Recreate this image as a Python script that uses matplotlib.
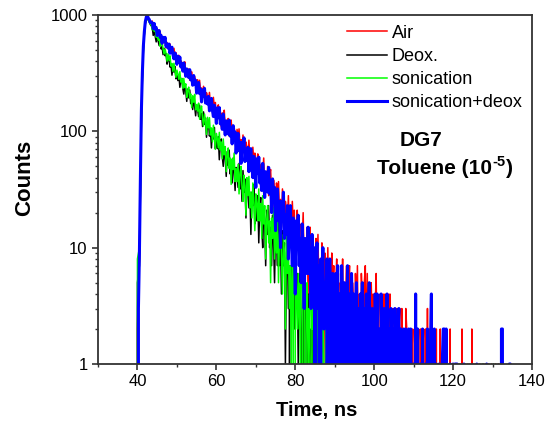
import numpy as np
import matplotlib
matplotlib.use("Agg")
import matplotlib.pyplot as plt
from matplotlib.ticker import FixedLocator, NullFormatter, FixedFormatter, LogLocator
from matplotlib.transforms import offset_copy

plt.rcParams['font.family'] = ['Liberation Sans', 'DejaVu Sans']

# time channels (ns): 39.0 ns, one channel every 0.25 ns
t_start, t_step = 39.0, 0.25

air = [
    0, 0, 0, 0, 2, 5, 8, 35, 140, 300, 520, 700, 860, 950, 975, 950, 900, 890, 850, 888,
    788, 737, 799, 746, 664, 747, 675, 727, 621, 647, 576, 648, 580, 522, 581, 547, 503, 564, 480, 505,
    451, 518, 452, 475, 392, 429, 450, 381, 404, 334, 391, 356, 396, 318, 341, 308, 344, 275, 314, 325,
    281, 254, 296, 269, 227, 278, 241, 275, 217, 236, 199, 244, 209, 179, 215, 199, 177, 216, 170, 188,
    154, 196, 160, 177, 131, 154, 169, 132, 147, 109, 144, 127, 152, 108, 124, 108, 129, 91, 115, 125,
    96, 84, 109, 96, 73, 104, 84, 105, 74, 85, 65, 93, 73, 57, 81, 71, 59, 84, 58, 69,
    49, 73, 54, 65, 39, 54, 64, 43, 52, 31, 53, 43, 59, 34, 44, 35, 50, 28, 42, 47,
    29, 22, 38, 30, 17, 36, 24, 37, 19, 26, 15, 32, 21, 12, 25, 21, 15, 28, 14, 21,
    11, 25, 15, 21, 7, 15, 21, 10, 15, 4, 16, 11, 20, 7, 12, 8, 15, 4, 12, 15,
    7, 4, 12, 8, 2, 12, 6, 13, 4, 8, 2, 11, 6, 1, 9, 6, 3, 10, 3, 7,
    1, 9, 4, 7, 0, 5, 8, 2, 5, 0, 6, 3, 8, 1, 5, 2, 7, 0, 5, 7,
    2, 0, 5, 3, 0, 6, 2, 7, 1, 4, 0, 6, 3, 0, 5, 7, 1, 6, 1, 4,
    0, 5, 2, 4, 0, 3, 6, 1, 3, 0, 4, 2, 0, 4, 1, 4, 2, 0, 4, 1,
    4, 0, 2, 3, 0, 3, 1, 3, 0, 2, 3, 0, 3, 1, 2, 0, 3, 2, 0, 2,
    0, 2, 1, 2, 0, 2, 0, 2, 1, 2, 0, 2, 0, 1, 2, 0, 2, 0, 3, 0,
    2, 0, 1, 0, 2, 0, 0, 2, 0, 1, 0, 2, 0, 0, 1, 0, 0, 1, 0, 0,
    0, 2, 0, 1, 0, 0, 1, 0, 1, 0, 0, 1, 0, 2, 0, 0, 1, 0, 0, 1,
    0, 1, 0, 2, 0, 1, 0, 0, 1, 0, 0, 1, 0, 0, 0, 1, 0, 0, 1, 0,
    1, 0, 0, 1, 0, 0, 0, 1, 0, 0, 1, 0, 0, 0, 0, 1, 0, 0, 0, 0,
    0, 0, 1, 0, 0,
]

deox = [
    0, 0, 0, 0, 5, 6, 7, 28, 120, 280, 490, 680, 840, 920, 950, 900, 870, 830, 810, 786,
    668, 737, 658, 587, 642, 599, 547, 603, 511, 529, 456, 519, 447, 466, 378, 412, 429, 357, 376, 304,
    356, 323, 361, 283, 304, 273, 306, 239, 274, 285, 233, 209, 247, 222, 181, 231, 194, 227, 173, 190,
    154, 196, 162, 136, 169, 154, 134, 168, 127, 143, 110, 147, 115, 130, 89, 111, 123, 91, 105, 72,
    102, 86, 108, 71, 85, 71, 90, 57, 78, 86, 61, 50, 71, 60, 41, 67, 51, 69, 43, 54,
    36, 59, 44, 31, 49, 43, 33, 53, 32, 41, 25, 46, 30, 39, 18, 31, 38, 22, 30, 13,
    30, 23, 35, 16, 24, 17, 28, 11, 23, 27, 15, 10, 22, 17, 7, 21, 13, 23, 10, 15,
    7, 19, 11, 5, 14, 11, 7, 17, 7, 12, 4, 14, 7, 11, 1, 7, 11, 3, 7, 0,
    7, 5, 9, 2, 5, 3, 6, 1, 4, 6, 2, 0, 4, 2, 0, 4, 1, 4, 1, 2,
    0, 2, 1, 3, 0, 1, 2, 0, 1, 0, 2, 0, 0, 1, 0, 2, 0, 0, 1, 0,
    0, 0, 0, 0, 0, 0, 0, 0, 0, 0, 0, 0, 0, 0, 0, 0, 0, 0, 0, 0,
    0, 0, 0, 0, 0, 0, 0, 0, 0, 0, 0, 0, 0, 0, 0, 0, 0, 0, 0, 0,
    0, 0, 0, 0, 0, 0, 0, 0, 0, 0, 0, 0, 0, 0, 0, 0, 0, 0, 0, 0,
    0, 0, 0, 0, 0, 0, 0, 0, 0, 0, 0, 0, 0, 0, 0, 0, 0, 0, 0, 0,
    0, 0, 0, 0, 0, 0, 0, 0, 0, 0, 0, 0, 0, 0, 0, 0, 0, 0, 0, 0,
    0, 0, 0, 0, 0, 0, 0, 0, 0, 0, 0, 0, 0, 0, 0, 0, 0, 0, 0, 0,
    0, 0, 0, 0, 0, 0, 0, 0, 0, 0, 0, 0, 0, 0, 0, 0, 0, 0, 0, 0,
    0, 0, 0, 0, 0, 0, 0, 0, 0, 0, 0, 0, 0, 0, 0, 0, 0, 0, 0, 0,
    0, 0, 0, 0, 0, 0, 0, 0, 0, 0, 0, 0, 0, 0, 0, 0, 0, 0, 0, 0,
    0, 0, 0, 0, 0,
]

sonication = [
    0, 0, 0, 0, 8, 9, 10, 30, 130, 290, 500, 690, 850, 930, 960, 905, 880, 835, 830, 745,
    787, 723, 769, 643, 664, 607, 646, 538, 582, 589, 507, 463, 511, 467, 401, 465, 408, 446, 364, 383,
    328, 385, 334, 291, 336, 311, 280, 326, 265, 284, 234, 285, 238, 256, 196, 225, 240, 192, 210, 160,
    202, 178, 208, 153, 170, 149, 175, 127, 155, 165, 128, 111, 141, 123, 94, 132, 107, 131, 93, 107,
    81, 113, 90, 70, 96, 87, 72, 98, 69, 81, 58, 86, 63, 74, 45, 62, 72, 48, 59, 35,
    58, 47, 65, 37, 48, 37, 52, 29, 44, 50, 33, 25, 42, 34, 19, 40, 28, 41, 22, 30,
    18, 36, 24, 14, 29, 24, 17, 32, 17, 24, 12, 28, 16, 23, 8, 17, 23, 11, 17, 5,
    18, 12, 22, 8, 14, 9, 17, 5, 13, 17, 8, 4, 13, 9, 2, 13, 6, 12, 3, 7,
    1, 10, 5, 0, 7, 5, 2, 6, 2, 5, 0, 5, 3, 5, 0, 3, 5, 1, 3, 0,
    4, 2, 4, 0, 2, 1, 3, 0, 2, 4, 1, 0, 3, 1, 0, 3, 1, 2, 0, 0,
    1, 0, 0, 2, 0, 0, 0, 1, 0, 0, 0, 0, 1, 0, 0, 0, 0, 0, 1, 0,
    0, 0, 0, 0, 1, 0, 0, 0, 0, 0, 0, 0, 0, 1, 0, 0, 0, 0, 0, 0,
    0, 0, 0, 0, 0, 0, 1, 0, 0, 0, 0, 0, 0, 0, 0, 0, 0, 0, 0, 0,
    0, 0, 0, 0, 0, 0, 0, 0, 0, 0, 0, 0, 1, 0, 0, 0, 0, 0, 0, 0,
    0, 0, 0, 0, 0, 0, 0, 0, 0, 0, 0, 0, 0, 0, 0, 0, 0, 0, 0, 0,
    0, 0, 0, 1, 0, 0, 0, 0, 0, 0, 0, 0, 0, 0, 0, 0, 0, 0, 0, 0,
    0, 0, 0, 0, 0, 0, 0, 0, 0, 0, 1, 0, 0, 0, 0, 0, 0, 0, 0, 0,
    0, 0, 0, 0, 0, 0, 0, 0, 0, 0, 0, 0, 0, 0, 1, 0, 0, 0, 0, 0,
    0, 0, 0, 0, 0, 1, 0, 0, 0, 0, 0, 0, 0, 0, 0, 0, 0, 0, 0, 0,
    0, 0, 0, 0, 0,
]

sonication_deox = [
    0, 0, 0, 0, 0, 3, 9, 40, 150, 320, 540, 720, 880, 960, 990, 940, 915, 860, 870, 856,
    763, 846, 755, 781, 667, 712, 735, 642, 667, 571, 643, 594, 643, 537, 564, 519, 563, 469, 516, 529,
    457, 420, 472, 435, 377, 443, 392, 435, 358, 381, 329, 387, 338, 297, 344, 320, 290, 339, 277, 298,
    249, 302, 255, 275, 213, 244, 263, 211, 231, 179, 226, 201, 234, 175, 194, 172, 200, 150, 180, 192,
    152, 134, 168, 149, 117, 159, 131, 160, 116, 133, 104, 141, 115, 93, 123, 111, 95, 125, 91, 106,
    78, 112, 85, 99, 65, 84, 96, 68, 81, 53, 80, 67, 88, 55, 68, 56, 73, 45, 64, 71,
    50, 40, 61, 51, 33, 58, 44, 60, 36, 46, 31, 53, 39, 27, 45, 39, 30, 49, 29, 38,
    20, 39, 25, 33, 14, 25, 32, 17, 25, 10, 25, 18, 30, 12, 19, 13, 23, 8, 19, 23,
    12, 7, 18, 13, 4, 17, 10, 19, 7, 12, 5, 16, 9, 3, 12, 9, 6, 15, 6, 10,
    3, 13, 6, 10, 1, 7, 11, 3, 7, 0, 8, 5, 10, 2, 5, 3, 8, 0, 6, 8,
    3, 0, 6, 4, 0, 6, 3, 7, 1, 4, 0, 7, 3, 0, 5, 3, 1, 7, 1, 4,
    0, 6, 2, 4, 0, 3, 5, 1, 3, 0, 4, 2, 5, 0, 3, 1, 4, 0, 3, 5,
    1, 0, 3, 2, 0, 4, 1, 4, 0, 2, 0, 4, 1, 0, 3, 2, 0, 4, 1, 2,
    0, 3, 1, 2, 0, 3, 1, 0, 2, 3, 0, 2, 1, 0, 2, 0, 2, 1, 0, 2,
    0, 2, 0, 0, 1, 0, 4, 0, 2, 0, 0, 1, 0, 2, 0, 0, 1, 0, 2, 0,
    0, 1, 4, 0, 0, 2, 0, 1, 0, 0, 1, 0, 0, 1, 2, 2, 0, 2, 0, 0,
    0, 1, 0, 0, 1, 0, 1, 1, 1, 0, 0, 0, 0, 0, 0, 1, 0, 0, 0, 0,
    0, 0, 0, 0, 0, 0, 0, 0, 1, 0, 0, 0, 0, 0, 0, 0, 0, 0, 1, 0,
    0, 0, 0, 0, 0, 0, 0, 0, 0, 0, 0, 0, 0, 2, 2, 0, 0, 0, 0, 0,
    0, 1, 1, 0, 0,
]

series_labels = ["Air", "Deox.", "sonication", "sonication+deox"]
x_ticks = [40, 60, 80, 100, 120, 140]
y_ticks = [1, 10, 100, 1000]
y_tick_labels = ["1", "10", "100", "1000"]

fig = plt.figure(figsize=(5.52, 4.25), dpi=100)
ax = fig.add_axes([0.1775, 0.1435, 0.7863, 0.8212])
ax.set_yscale('log', nonpositive='clip')

colors = ['#ff0000', '#000000', '#00ff00', '#0000ff']
widths = [1.1, 1.1, 1.1, 2.2]
for data, lab, c, lw in zip([air, deox, sonication, sonication_deox], series_labels, colors, widths):
    tt = t_start + t_step * np.arange(len(data))
    ax.plot(tt, data, color=c, lw=lw, label=lab)

ax.set_xlim(30, 140)
ax.set_ylim(1, 1000)

ax.xaxis.set_major_locator(FixedLocator(x_ticks))
ax.xaxis.set_minor_locator(FixedLocator([30, 50, 70, 90, 110, 130]))
ax.yaxis.set_major_locator(FixedLocator(y_ticks))
ax.yaxis.set_major_formatter(FixedFormatter(y_tick_labels))
ax.yaxis.set_minor_locator(LogLocator(base=10, subs=np.arange(2, 10)))
ax.yaxis.set_minor_formatter(NullFormatter())

ax.tick_params(axis='both', which='major', direction='out', length=4, width=1.2,
               labelsize=12, color='#333333', top=False, right=False)
ax.tick_params(axis='both', which='minor', direction='out', length=2.5, width=1.0,
               color='#333333', top=False, right=False)
for s in ax.spines.values():
    s.set_color('#333333')
    s.set_linewidth(1.3)

ax.set_xlabel("Time, ns", fontsize=14.5, fontweight='bold')
ax.set_ylabel("Counts", fontsize=16, fontweight='bold')
ax.xaxis.set_label_coords(0.505, -0.132)
ax.xaxis.label.set_va('center')
ax.yaxis.set_label_coords(-0.17, 0.533)
ax.yaxis.label.set_va('center')

leg = ax.legend(loc='upper left', bbox_to_anchor=(0.574, 0.972), frameon=False,
                fontsize=13, handlelength=2.2, handletextpad=0.28, labelspacing=0.34,
                borderaxespad=0, borderpad=0)

ax.text(0.696, 0.625, "DG7", transform=ax.transAxes, ha='left', va='baseline',
        fontsize=15, fontweight='bold')

y_base = 0.544
t1 = ax.text(0.643, y_base, "Toluene (10", transform=ax.transAxes, ha='left', va='baseline',
             fontsize=15, fontweight='bold')
fig.canvas.draw()
r = fig.canvas.get_renderer()
inv = ax.transAxes.inverted()
x1 = inv.transform((t1.get_window_extent(r).x1, 0))[0]
t2 = ax.text(x1, y_base, "-5", transform=offset_copy(ax.transAxes, fig=fig, x=0.5, y=8, units='dots'),
             ha='left', va='baseline', fontsize=10.5, fontweight='bold')
fig.canvas.draw()
x2 = inv.transform((t2.get_window_extent(r).x1, 0))[0]
ax.text(x2, y_base, ")", transform=offset_copy(ax.transAxes, fig=fig, x=0.5, y=0, units='dots'),
        ha='left', va='baseline', fontsize=15, fontweight='bold')

fig.savefig("out.png", dpi=100)
